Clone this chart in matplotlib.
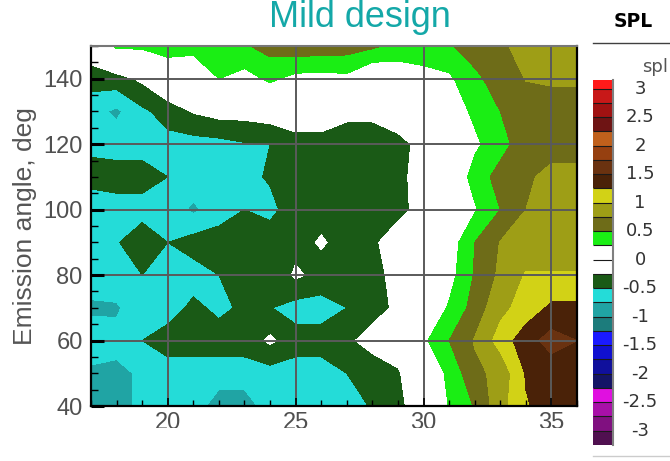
import numpy as np
import matplotlib.pyplot as plt
from matplotlib.ticker import MultipleLocator
from matplotlib.transforms import Bbox, TransformedBbox
from matplotlib.lines import Line2D

plt.rcParams['font.family'] = ['Liberation Sans', 'DejaVu Sans']

# measurement grid: source position and emission angle
position = [17, 18, 19, 20, 21, 22, 23, 24, 25, 26, 27, 28, 29, 30, 31, 32, 33, 34, 35, 36]
angle = [40, 50, 60, 70, 80, 90, 100, 110, 120, 130, 140, 150]

# SPL difference, one row per emission angle (columns follow `position`)
spl_040 = [-0.80, -0.80, -0.72, -0.60, -0.60, -0.90, -0.90, -0.60, -0.60, -0.60, -0.60, -0.48, -0.35, 0.00, 0.26, 0.52, 0.90, 1.23, 1.35, 1.35]
spl_050 = [-0.80, -0.80, -0.72, -0.60, -0.60, -0.60, -0.60, -0.60, -0.60, -0.60, -0.50, -0.40, -0.28, 0.00, 0.31, 0.69, 0.82, 1.27, 1.35, 1.35]
spl_060 = [-0.60, -0.68, -0.50, -0.40, -0.40, -0.40, -0.40, -0.20, -0.40, -0.40, -0.30, -0.15, -0.10, 0.20, 0.50, 0.77, 1.10, 1.40, 1.60, 1.50]
spl_070 = [-0.80, -0.78, -0.60, -0.60, -0.45, -0.55, -0.46, -0.49, -0.60, -0.60, -0.50, -0.35, -0.20, 0.00, 0.28, 0.60, 0.93, 1.10, 1.30, 1.30]
spl_080 = [-0.60, -0.60, -0.50, -0.60, -0.60, -0.50, -0.40, -0.50, -0.20, -0.35, -0.35, -0.35, -0.15, 0.00, 0.15, 0.52, 0.80, 1.02, 1.02, 1.02]
spl_090 = [-0.68, -0.52, -0.35, -0.50, -0.40, -0.40, -0.40, -0.40, -0.35, -0.22, -0.35, -0.30, -0.10, 0.00, 0.10, 0.50, 0.76, 0.85, 0.85, 0.85]
spl_100 = [-0.76, -0.60, -0.60, -0.60, -0.80, -0.60, -0.50, -0.55, -0.40, -0.35, -0.35, -0.35, -0.33, -0.15, 0.05, 0.22, 0.50, 0.75, 0.80, 0.80]
spl_110 = [-0.35, -0.40, -0.40, -0.50, -0.60, -0.60, -0.55, -0.48, -0.40, -0.40, -0.40, -0.40, -0.30, -0.17, 0.00, 0.35, 0.60, 0.72, 0.80, 0.80]
spl_120 = [-0.60, -0.60, -0.60, -0.58, -0.60, -0.58, -0.52, -0.50, -0.40, -0.40, -0.40, -0.40, -0.35, -0.15, 0.00, 0.20, 0.40, 0.65, 0.68, 0.68]
spl_130 = [-0.65, -0.80, -0.55, -0.40, -0.23, -0.15, -0.15, -0.10, 0.00, 0.00, -0.18, -0.18, -0.05, 0.00, 0.10, 0.30, 0.50, 0.62, 0.65, 0.65]
spl_140 = [-0.40, -0.35, -0.20, 0.06, 0.00, 0.25, 0.15, 0.30, 0.17, 0.15, 0.18, -0.05, 0.05, 0.15, 0.20, 0.45, 0.60, 0.76, 0.78, 0.78]
spl_150 = [-0.05, 0.30, 0.30, 0.35, 0.35, 0.42, 0.47, 0.60, 0.65, 0.65, 0.62, 0.55, 0.42, 0.40, 0.48, 0.60, 0.70, 0.85, 0.85, 0.85]

# contour bands, 0.25 wide, from -3.25 up to 3.25
levels = np.arange(-3.25, 3.26, 0.25)
band_colors = ['#501050', '#801080', '#a810a8', '#e010e0',
               '#141466', '#10109c', '#1010d0', '#1a1aff',
               '#1c7c7c', '#20a4a4', '#24dcd8', '#1a5a16',
               'white', 'white',
               '#1aee14', '#6e6c18', '#9e9e16', '#d2d216',
               '#4a2208', '#6a3210', '#964010', '#c0601c',
               '#6e1414', '#a01212', '#c81818', '#ff1a1a']
cbar_ticks = [-3, -2.5, -2, -1.5, -1, -0.5, 0, 0.5, 1, 1.5, 2, 2.5, 3]
cbar_labels = ['-3', '-2.5', '-2', '-1.5', '-1', '-0.5', '0', '0.5', '1', '1.5', '2', '2.5', '3']

Z = np.array([spl_040, spl_050, spl_060, spl_070, spl_080, spl_090,
              spl_100, spl_110, spl_120, spl_130, spl_140, spl_150])

fig = plt.figure(figsize=(6.7, 4.61), dpi=100)
ax = fig.add_axes([91 / 670, 55 / 461, 486 / 670, 360 / 461])

cs = ax.contourf(position, angle, Z, levels=levels, colors=band_colors)

ax.set_xlim(17, 36)
ax.set_ylim(40, 150)
ax.set_xticks([20, 25, 30, 35])
ax.set_yticks([40, 60, 80, 100, 120, 140])
ax.xaxis.set_minor_locator(MultipleLocator(1))
ax.yaxis.set_minor_locator(MultipleLocator(5))
ax.grid(True, which='major', color='#5a5a5a', lw=1.4)

ax.tick_params(which='both', direction='in', colors='k', labelcolor='#505050', labelsize=17)
ax.tick_params(axis='y', which='major', length=9, width=2.2, pad=6)
ax.tick_params(axis='y', which='minor', length=5, width=1)
ax.tick_params(axis='x', which='major', length=6, width=1.2, pad=4)
ax.tick_params(axis='x', which='minor', length=4, width=1)

for side in ['left', 'bottom', 'right']:
    ax.spines[side].set_color('k')
    ax.spines[side].set_linewidth(1.6)
ax.spines['top'].set_color('#777777')
ax.spines['top'].set_linewidth(1.5)

ax.set_ylabel('Emission angle, deg', fontsize=19, color='#555555')
ax.yaxis.set_label_coords(-0.111, 0.5)

# the x labels run off the bottom of the page
clip = TransformedBbox(Bbox([[0, 33 / 461], [1, 1]]), fig.transFigure)
for lbl in ax.get_xticklabels():
    lbl.set_clip_box(clip)
    lbl.set_clip_on(True)

fig.text(360 / 670, 1 - 27 / 461, 'Mild design', ha='center', va='baseline',
         fontsize=26, color='#14a8a8')

# legend bar
cax = fig.add_axes([593 / 670, 16 / 461, 20 / 670, 365 / 461])
cb = fig.colorbar(cs, cax=cax, ticks=[])
cb.outline.set_visible(False)
cax.set_ylim(-3.25, 3.15)
cax.minorticks_off()
cax.hlines(levels, 0, 1, colors='#1a1a1a', lw=0.8)
cax.axvline(1, color='#808080', lw=1.5, clip_on=False)
for val, txt in zip(cbar_ticks, cbar_labels):
    cax.text(1 + 27 / 20, val, txt, transform=cax.get_yaxis_transform(),
             ha='center', va='center', fontsize=13, color='#333333',
             family='DejaVu Sans')

fig.text(633 / 670, 1 - 27 / 461, 'SPL', ha='center', va='baseline',
         fontsize=13.5, fontweight='bold', color='k', family='DejaVu Sans')
fig.add_artist(Line2D([593 / 670, 1], [1 - 43 / 461, 1 - 43 / 461],
                      transform=fig.transFigure, color='#404040', lw=1))
fig.text(668 / 670, 1 - 72 / 461, 'spl', ha='right', va='baseline',
         fontsize=13, color='#555555', family='DejaVu Sans')
fig.add_artist(Line2D([593 / 670, 1], [1 - 456 / 461, 1 - 456 / 461],
                      transform=fig.transFigure, color='#cccccc', lw=1))

fig.savefig('out.png', dpi=100)
